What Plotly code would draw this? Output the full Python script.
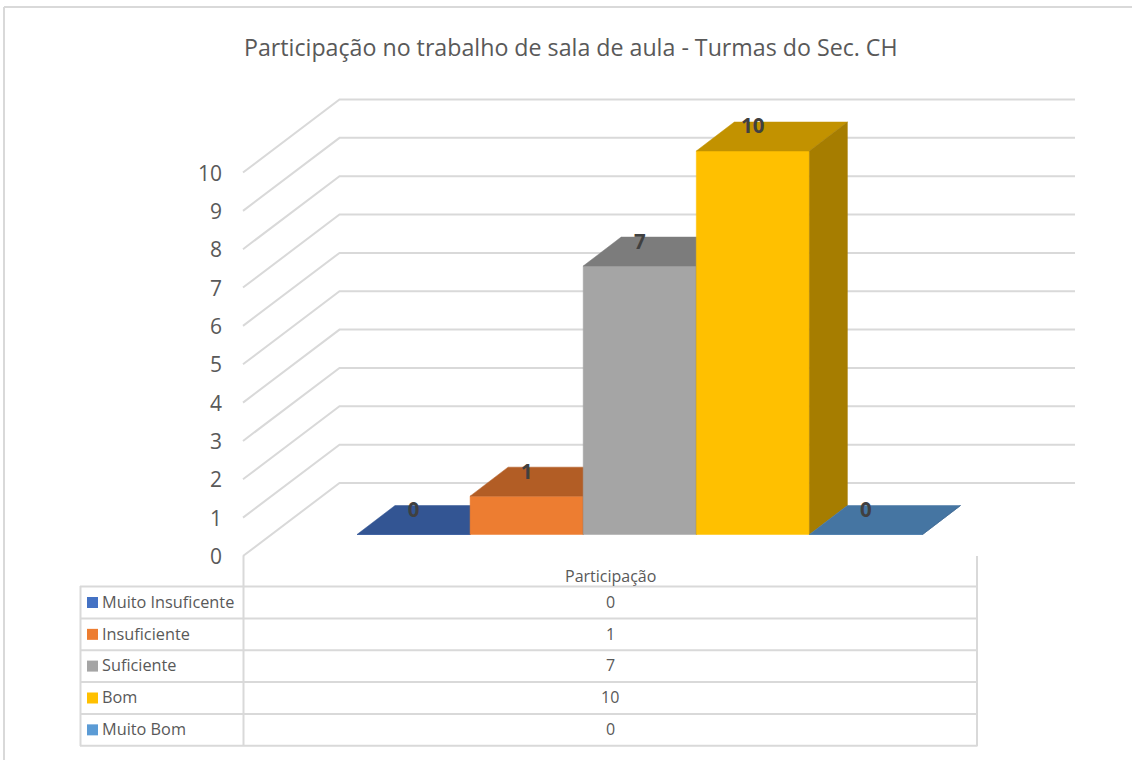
import plotly.graph_objects as go

TITLE = "Participação no trabalho de sala de aula - Turmas do Sec. CH"
SERIES = ["Muito Insuficente", "Insuficiente", "Suficiente", "Bom", "Muito Bom"]
VALUES = [0, 1, 7, 10, 0]
TICKS = list(range(0, 11))
TABLE_HEADER = "Participação"
FRONT = ["#4472C4", "#ED7D31", "#A5A5A5", "#FFC000", "#5B9BD5"]
TOP = ["#335593", "#B25D25", "#7C7C7C", "#C29200", "#4575A2"]
SIDE = ["#2A4A80", "#995020", "#6A6A6A", "#A67D00", "#3C6790"]

W, H = 1132, 760
GRID = "#D9D9D9"
TEXT = "#595959"
FONT = "Open Sans"

# value axis scale: one category = 113.1 px, one unit = 38.35 px
PX_CAT, PX_VAL = 113.1, 38.35
X0, Y0 = 357.0, 534.5
xr = [-X0 / PX_CAT, (W - X0) / PX_CAT]
yr = [-(H - Y0) / PX_VAL, Y0 / PX_VAL]
DX, DY = 38.0 / PX_CAT, 29 / PX_VAL       # depth of one bar

px = lambda p: p / W
py = lambda p: 1 - p / H
ux = lambda p: (p - X0) / PX_CAT
uy = lambda p: (Y0 - p) / PX_VAL

fig = go.Figure()

def poly(xs, ys, color, name):
    fig.add_trace(go.Scatter(x=xs, y=ys, mode="lines", fill="toself", fillcolor=color,
                             line=dict(color=color, width=0.5), name=name,
                             showlegend=False, hoverinfo="name"))

# walls: gridlines, left diagonal then back plane
wx0, wx1, wx2 = ux(243), ux(339.5), ux(1075)
wy0, wy1 = uy(556), uy(483)
for t in TICKS:
    fig.add_trace(go.Scatter(x=[wx0, wx1, wx2], y=[wy0 + t, wy1 + t, wy1 + t], mode="lines",
                             line=dict(color=GRID, width=2), showlegend=False, hoverinfo="skip"))

# columns
for i, (s, v) in enumerate(zip(SERIES, VALUES)):
    l, r = i, i + 1
    poly([l, r, r, l, l], [0, 0, v, v, 0], FRONT[i], s)
    poly([l, r, r + DX, l + DX, l], [v, v, v + DY, v + DY, v], TOP[i], s)
    poly([r, r + DX, r + DX, r, r], [0, DY, v + DY, v, 0], SIDE[i], s)

# data labels
fig.add_trace(go.Scatter(x=[i + 0.5 for i in range(len(VALUES))], y=[v + 0.59 for v in VALUES],
                         mode="text", text=[str(v) for v in VALUES], textposition="middle center",
                         textfont=dict(family=FONT, size=20.5, color="#404040", weight="bold"),
                         showlegend=False, hoverinfo="skip"))

# invisible trace that carries the value-axis ticks
fig.add_trace(go.Scatter(x=[0, 0], y=[TICKS[0], TICKS[-1]], yaxis="y2", mode="lines",
                         line=dict(width=0), showlegend=False, hoverinfo="skip"))

shapes = []
def hline(x0, x1, y, w=2):
    shapes.append(dict(type="line", xref="paper", yref="paper", x0=px(x0), x1=px(x1), y0=py(y), y1=py(y),
                       line=dict(color=GRID, width=w)))
def vline(x, y0, y1, w=2):
    shapes.append(dict(type="line", xref="paper", yref="paper", x0=px(x), x1=px(x), y0=py(y0), y1=py(y1),
                       line=dict(color=GRID, width=w)))

ROWS = [586.5, 618.5, 650.2, 682, 714, 745.7]
for y in ROWS:
    hline(80, 977.5, y)
vline(80.5, 586, 746)
vline(243.5, 556, 746)
vline(977, 556, 746)
# chart frame
vline(4, 7, 760)
hline(4, W, 7)

def label(text, x, y, size, xanchor="center"):
    return dict(text=text, x=px(x), y=py(y), xref="paper", yref="paper", xanchor=xanchor, yanchor="middle",
                showarrow=False, font=dict(family=FONT, size=size, color=TEXT))

anns = [label(TITLE, 570.5, 46.5, 23.2), label(TABLE_HEADER, 610.5, 575.5, 16)]
for k, (s, v) in enumerate(zip(SERIES, VALUES)):
    yc = (ROWS[k] + ROWS[k + 1]) / 2
    shapes.append(dict(type="rect", xref="paper", yref="paper", x0=px(87), x1=px(98), y0=py(yc - 5.5), y1=py(yc + 5.5),
                       fillcolor=FRONT[k], line=dict(width=0)))
    anns.append(label(s, 100, yc - 0.7, 16.3, "left"))
    anns.append(label(str(v), 610.5, yc - 0.7, 16))

fig.update_layout(
    width=W, height=H, margin=dict(l=0, r=0, t=0, b=0), autosize=False,
    paper_bgcolor="white", plot_bgcolor="white", showlegend=False,
    xaxis=dict(range=xr, visible=False, domain=[0, 1]),
    yaxis=dict(range=yr, visible=False, domain=[0, 1]),
    # 0 and 10 sit on the front edge of the left wall
    yaxis2=dict(overlaying="y", anchor="free", side="left", position=px(222),
                range=[(556.5 - H) / ((556.5 - 173.5) / 10), 556.5 / ((556.5 - 173.5) / 10)],
                tickvals=TICKS, ticktext=[str(t) for t in TICKS], showgrid=False, zeroline=False,
                showline=False, ticks="", tickfont=dict(family=FONT, size=21, color=TEXT)),
    shapes=shapes, annotations=anns,
)
fig.write_html("out.html", config=dict(displayModeBar=False),
               post_script="document.body.style.margin='0';document.body.style.overflow='hidden';")
